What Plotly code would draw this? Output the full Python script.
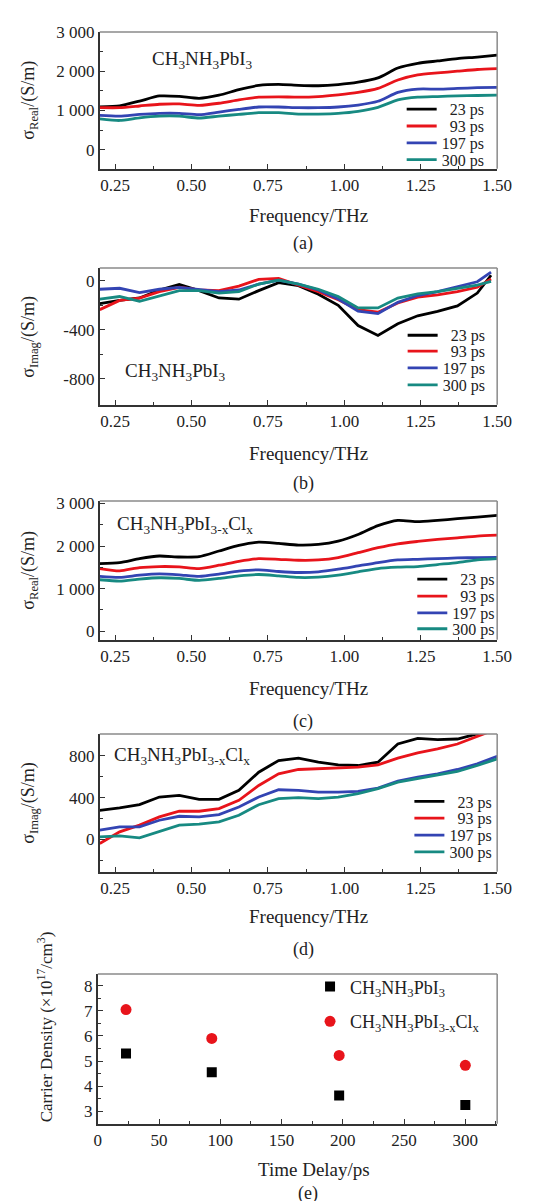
import plotly.graph_objects as go

# ---------------- data ----------------
freq = [0.20, 0.265, 0.33, 0.395, 0.46, 0.525, 0.59, 0.655, 0.72, 0.785, 0.85,
        0.915, 0.98, 1.045, 1.11, 1.175, 1.24, 1.305, 1.37, 1.435, 1.50]
freq_b = [0.20, 0.265, 0.33, 0.395, 0.46, 0.525, 0.59, 0.655, 0.72, 0.785, 0.85,
          0.915, 0.98, 1.045, 1.11, 1.175, 1.24, 1.305, 1.37, 1.435, 1.48]
delays = ["23 ps", "93 ps", "197 ps", "300 ps"]
legend_names = ["\u200723 ps", "\u200793 ps", "197 ps", "300 ps"]

# (a) CH3NH3PbI3 real conductivity
a_23 = [1090, 1120, 1240, 1370, 1360, 1310, 1390, 1530, 1640, 1665, 1640,
        1630, 1660, 1720, 1830, 2080, 2200, 2260, 2320, 2360, 2410]
a_93 = [1073, 1073, 1115, 1160, 1167, 1133, 1185, 1270, 1340, 1348, 1340,
        1356, 1400, 1460, 1562, 1777, 1905, 1957, 2000, 2043, 2065]
a_197 = [875, 858, 901, 927, 927, 893, 961, 1030, 1090, 1090, 1073,
         1073, 1090, 1140, 1236, 1460, 1545, 1545, 1562, 1580, 1590]
a_300 = [790, 747, 815, 858, 858, 807, 858, 901, 944, 944, 910,
         910, 927, 979, 1082, 1270, 1340, 1356, 1373, 1382, 1392]

# (b) CH3NH3PbI3 imaginary conductivity
b_23 = [-187, -160, -140, -75, -30, -80, -140, -150, -80, -15, -40,
        -110, -200, -365, -445, -350, -285, -250, -205, -100, 45]
b_93 = [-235, -160, -141, -88, -53, -75, -80, -43, 11, 19, -35,
        -88, -155, -235, -256, -181, -133, -115, -88, -53, 15]
b_197 = [-69, -61, -96, -69, -53, -69, -88, -75, -27, 5, -27,
         -75, -149, -248, -267, -176, -120, -88, -48, -8, 70]
b_300 = [-149, -128, -168, -123, -80, -80, -101, -88, -27, 5, -27,
         -69, -128, -221, -221, -141, -107, -88, -61, -35, -5]

# (c) CH3NH3PbI3-xClx real conductivity
c_23 = [1590, 1612, 1705, 1767, 1744, 1752, 1884, 2016, 2093, 2062, 2023,
        2039, 2116, 2271, 2481, 2605, 2574, 2605, 2643, 2682, 2720]
c_93 = [1473, 1419, 1496, 1519, 1512, 1473, 1550, 1643, 1705, 1690, 1667,
        1674, 1729, 1845, 1961, 2054, 2109, 2155, 2194, 2233, 2256]
c_197 = [1287, 1264, 1318, 1349, 1326, 1287, 1341, 1411, 1442, 1403, 1380,
         1395, 1457, 1535, 1612, 1674, 1690, 1705, 1721, 1729, 1732]
c_300 = [1209, 1178, 1225, 1256, 1240, 1194, 1240, 1302, 1333, 1302, 1264,
         1271, 1318, 1395, 1473, 1504, 1519, 1566, 1612, 1674, 1705]

# (d) CH3NH3PbI3-xClx imaginary conductivity
d_23 = [279, 302, 333, 406, 422, 384, 384, 470, 644, 756, 778,
        740, 714, 708, 740, 914, 968, 956, 962, 1010, 1060]
d_93 = [-38, 73, 137, 216, 270, 270, 295, 375, 517, 629, 670,
        676, 683, 692, 714, 778, 829, 867, 914, 987, 1060]
d_197 = [89, 121, 121, 184, 222, 216, 238, 311, 406, 476, 470,
         454, 454, 460, 492, 559, 597, 629, 670, 724, 797]
d_300 = [25, 35, 16, 73, 137, 146, 168, 232, 333, 390, 400,
         390, 406, 438, 486, 549, 581, 613, 651, 708, 771]

# (e) carrier density
time_delay = [23, 93, 197, 300]
dens_pbi3 = [5.30, 4.55, 3.62, 3.25]
dens_cl = [7.05, 5.90, 5.22, 4.83]

# ---------------- styling ----------------
W, H = 536, 1201
FONT = "Liberation Serif, Times New Roman, Times, serif"
TXT = "#222222"
AXC = "#333333"
FRAMEC = "#8a8a8a"
colors = ["#000000", "#e8141b", "#3344b3", "#178a82"]

def px_x(p):
    return p / W

def px_y(p):
    return 1 - p / H

TICKFONT = dict(family=FONT, size=17, color=TXT)

def xax(domain, rng, dtick, minor, fmt, anchor):
    return dict(domain=domain, range=rng, dtick=dtick, tick0=0, tickformat=fmt,
                showline=True, mirror=False, linecolor=AXC, linewidth=1.8,
                ticks="inside", ticklen=5, tickcolor=AXC,
                minor=dict(ticks="inside", ticklen=3, dtick=minor, tickcolor=AXC),
                showgrid=False, zeroline=False, anchor=anchor, tickfont=TICKFONT)

def yax(domain, rng, vals, text, minor, anchor):
    d = dict(domain=domain, range=rng, tickvals=vals, ticktext=text,
             showline=True, mirror=False, linecolor=AXC, linewidth=1.8,
             ticks="inside", ticklen=5, tickcolor=AXC,
             showgrid=False, zeroline=False, anchor=anchor, tickfont=TICKFONT)
    if minor:
        d["minor"] = dict(ticks="inside", ticklen=3, tickcolor=AXC,
                          tickvals=minor)
    return d

fig = go.Figure()
legends = {}
leg_count = [0]

def new_legend(xl, yc, size):
    leg_count[0] += 1
    lid = "legend" if leg_count[0] == 1 else "legend%d" % leg_count[0]
    legends[lid] = dict(x=px_x(xl), y=px_y(yc), xanchor="left", yanchor="middle",
                        bgcolor="rgba(0,0,0,0)",
                        font=dict(family=FONT, size=size, color=TXT),
                        itemwidth=30, borderwidth=0)
    return lid

panels = [
    ("x", "y", freq, [a_23, a_93, a_197, a_300], "spline", 404, [93, 110, 127, 144]),
    ("x2", "y2", freq_b, [b_23, b_93, b_197, b_300], "linear", 405, [321, 337, 354, 371]),
    ("x3", "y3", freq, [c_23, c_93, c_197, c_300], "spline", 415, [567, 584, 601, 617]),
    ("x4", "y4", freq, [d_23, d_93, d_197, d_300], "linear", 412, [791, 808, 825, 842]),
]
for xa, ya, xs, series, shape, lx, lys in panels:
    for name, col, ys, ly in zip(legend_names, colors, series, lys):
        lid = new_legend(lx, ly, 16)
        fig.add_trace(go.Scatter(x=xs, y=ys, mode="lines", name=name,
                                 line=dict(color=col, width=2.8, shape=shape, smoothing=0.6),
                                 xaxis=xa, yaxis=ya, legend=lid))

lid = new_legend(309, 978, 18)
fig.add_trace(go.Scatter(x=time_delay, y=dens_pbi3, mode="markers",
                         name="CH<sub>3</sub>NH<sub>3</sub>PbI<sub>3</sub>",
                         marker=dict(symbol="square", size=10, color="#000000"),
                         xaxis="x5", yaxis="y5", legend=lid))
lid = new_legend(309, 1013, 18)
fig.add_trace(go.Scatter(x=time_delay, y=dens_cl, mode="markers",
                         name="CH<sub>3</sub>NH<sub>3</sub>PbI<sub>3-x</sub>Cl<sub>x</sub>",
                         marker=dict(symbol="circle", size=11, color="#e8141b"),
                         xaxis="x5", yaxis="y5", legend=lid))

xdom = [px_x(91), px_x(503)]
xdom_e = [px_x(89), px_x(503)]
doms = {
    "a": [px_y(153), px_y(15)],
    "b": [px_y(391), px_y(253)],
    "c": [px_y(628), px_y(488)],
    "d": [px_y(862), px_y(723)],
    "e": [px_y(1116), px_y(965)],
}

fig.update_layout(
    width=W, height=H, margin=dict(l=0, r=0, t=0, b=0),
    paper_bgcolor="white", plot_bgcolor="white",
    font=dict(family=FONT, color=TXT),
    xaxis=xax(xdom, [0.2, 1.5], 0.25, 0.125, ".2f", "y"),
    yaxis=yax(doms["a"], [-480, 3000], [0, 1000, 2000, 3000],
              ["0", "1 000", "2 000", "3 000"], [500, 1500, 2500], "x"),
    xaxis2=xax(xdom, [0.2, 1.5], 0.25, 0.125, ".2f", "y2"),
    yaxis2=yax(doms["b"], [-1010, 105], [-800, -400, 0],
               ["-800", "-400", "0"], [-600, -200], "x2"),
    xaxis3=xax(xdom, [0.2, 1.5], 0.25, 0.125, ".2f", "y3"),
    yaxis3=yax(doms["c"], [-200, 3060], [0, 1000, 2000, 3000],
               ["0", "1 000", "2 000", "3 000"], [500, 1500, 2500], "x3"),
    xaxis4=xax(xdom, [0.2, 1.5], 0.25, 0.125, ".2f", "y4"),
    yaxis4=yax(doms["d"], [-310, 1010], [0, 400, 800],
               ["0", "400", "800"], [-200, 200, 600], "x4"),
    xaxis5=xax(xdom_e, [0, 326], 50, 25, "d", "y5"),
    yaxis5=yax(doms["e"], [2.5, 8.47], [3, 4, 5, 6, 7, 8],
               ["3", "4", "5", "6", "7", "8"], [3.5, 4.5, 5.5, 6.5, 7.5], "x5"),
    showlegend=True,
)
fig.update_layout(**legends)

# light-grey top and right frame edges
shapes = []
for key, xd in [("a", xdom), ("b", xdom), ("c", xdom), ("d", xdom), ("e", xdom_e)]:
    yd = doms[key]
    shapes.append(dict(type="line", xref="paper", yref="paper", x0=xd[0], x1=xd[1],
                       y0=yd[1], y1=yd[1], line=dict(color=FRAMEC, width=1.5)))
    shapes.append(dict(type="line", xref="paper", yref="paper", x0=xd[1], x1=xd[1],
                       y0=yd[0], y1=yd[1], line=dict(color=FRAMEC, width=1.5)))
fig.update_layout(shapes=shapes)

annotations = []
def ann(text, x, y, size=19, angle=0, xanchor="center"):
    annotations.append(dict(text=text, x=px_x(x), y=px_y(y), xref="paper", yref="paper",
                            showarrow=False, textangle=angle, xanchor=xanchor,
                            yanchor="middle", font=dict(family=FONT, size=size, color=TXT)))

# x-axis titles and panel labels
for ty, ly, lab in [(200, 228, "(a)"), (440, 470, "(b)"), (677, 710, "(c)"),
                    (907, 940, "(d)")]:
    ann("Frequency/THz", 307, ty)
    ann(lab, 302, ly, size=18)
ann("Time Delay/ps", 313, 1162)
ann("(e)", 307, 1186, size=18)

# y-axis titles
ann("σ<sub>Real</sub>/(S/m)", 18, 84, size=18, angle=-90)
ann("σ<sub>Imag</sub>/(S/m)", 18, 322, size=18, angle=-90)
ann("σ<sub>Real</sub>/(S/m)", 18, 558, size=18, angle=-90)
ann("σ<sub>Imag</sub>/(S/m)", 18, 792, size=18, angle=-90)
ann("Carrier Density (×10<sup>17</sup>/cm<sup>3</sup>)", 34, 1018, size=17, angle=-90)

# in-plot material labels
ann("CH<sub>3</sub>NH<sub>3</sub>PbI<sub>3</sub>", 143, 43, xanchor="left")
ann("CH<sub>3</sub>NH<sub>3</sub>PbI<sub>3</sub>", 115, 358, xanchor="left")
ann("CH<sub>3</sub>NH<sub>3</sub>PbI<sub>3-x</sub>Cl<sub>x</sub>", 107, 512, xanchor="left")
ann("CH<sub>3</sub>NH<sub>3</sub>PbI<sub>3-x</sub>Cl<sub>x</sub>", 104, 745, xanchor="left")

fig.update_layout(annotations=annotations)
fig.write_html("out.html")
